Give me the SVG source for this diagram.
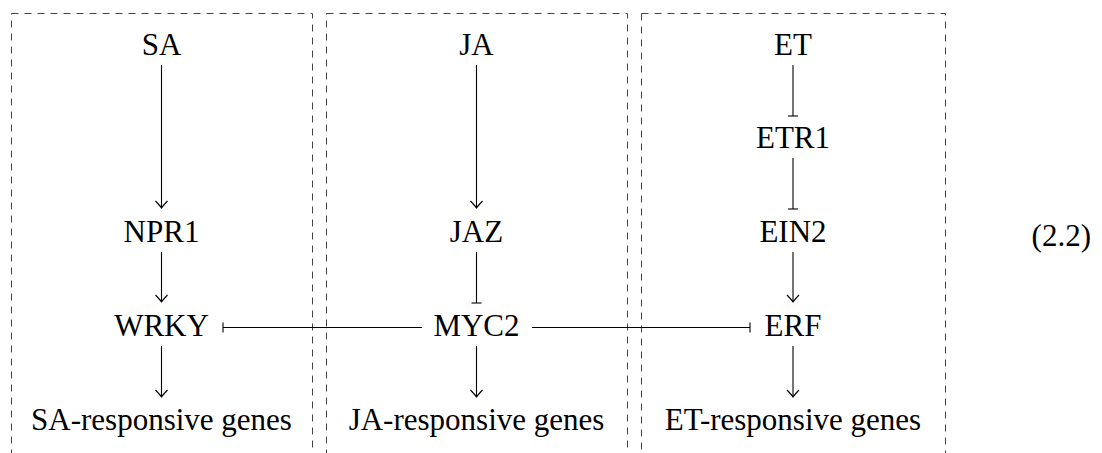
<svg xmlns="http://www.w3.org/2000/svg" width="1102" height="453" viewBox="0 0 1102 453">
<style>
.box{fill:none;stroke:#444;stroke-width:1;stroke-dasharray:7 6}
.t{font-family:'Liberation Serif','DejaVu Serif','Times New Roman',serif;font-size:31px;fill:#000;text-anchor:middle}
.e{fill:none;stroke:#000;stroke-width:1.1}
</style>
<defs>
<marker id="arr" markerUnits="userSpaceOnUse" markerWidth="16" markerHeight="16" viewBox="-8 -8 16 16" refX="0" refY="0" orient="auto" overflow="visible">
<path d="M-7,-6 Q-2,-1.3 0,0 Q-2,1.3 -7,6" fill="none" stroke="#000" stroke-width="1.1"/>
</marker>
<marker id="tee" markerUnits="userSpaceOnUse" markerWidth="16" markerHeight="16" viewBox="-8 -8 16 16" refX="0" refY="0" orient="auto" overflow="visible">
<path d="M0,-5 L0,5" fill="none" stroke="#000" stroke-width="1.1"/>
</marker>
</defs>
<g id="boxes">
<rect class="box" x="11.5" y="13.5" width="301" height="460"/>
<rect class="box" x="326.5" y="13.5" width="301" height="460"/>
<rect class="box" x="641.5" y="13.5" width="304" height="460"/>
</g>
<g id="connectors">
<path class="e" d="M161.5,65 L161.5,208" marker-end="url(#arr)"/>
<path class="e" d="M161.5,252 L161.5,302" marker-end="url(#arr)"/>
<path class="e" d="M161.5,346 L161.5,397" marker-end="url(#arr)"/>
<path class="e" d="M476.5,65 L476.5,208" marker-end="url(#arr)"/>
<path class="e" d="M476.5,252 L476.5,303" marker-end="url(#tee)"/>
<path class="e" d="M476.5,346 L476.5,397" marker-end="url(#arr)"/>
<path class="e" d="M793,65 L793,116" marker-end="url(#tee)"/>
<path class="e" d="M793,158 L793,209" marker-end="url(#tee)"/>
<path class="e" d="M793,252 L793,302" marker-end="url(#arr)"/>
<path class="e" d="M793,346 L793,397" marker-end="url(#arr)"/>
<path class="e" d="M422,327.5 L223,327.5" marker-end="url(#tee)"/>
<path class="e" d="M532,327.5 L750,327.5" marker-end="url(#tee)"/>
</g>
<g id="SA"><text class="t" x="161.5" y="55">SA</text></g>
<g id="NPR1"><text class="t" x="161.5" y="242">NPR1</text></g>
<g id="WRKY"><text class="t" x="161.5" y="336">WRKY</text></g>
<g id="SAgenes"><text class="t" x="161.5" y="430">SA-responsive genes</text></g>
<g id="JA"><text class="t" x="476.5" y="55">JA</text></g>
<g id="JAZ"><text class="t" x="476.5" y="242">JAZ</text></g>
<g id="MYC2"><text class="t" x="476.5" y="336">MYC2</text></g>
<g id="JAgenes"><text class="t" x="476.5" y="430">JA-responsive genes</text></g>
<g id="ET"><text class="t" x="793" y="55">ET</text></g>
<g id="ETR1"><text class="t" x="793" y="148">ETR1</text></g>
<g id="EIN2"><text class="t" x="793" y="242">EIN2</text></g>
<g id="ERF"><text class="t" x="793" y="336">ERF</text></g>
<g id="ETgenes"><text class="t" x="793" y="430">ET-responsive genes</text></g>
<g id="eqnum"><text class="t" x="1091" y="246" style="text-anchor:end">(2.2)</text></g>
</svg>
